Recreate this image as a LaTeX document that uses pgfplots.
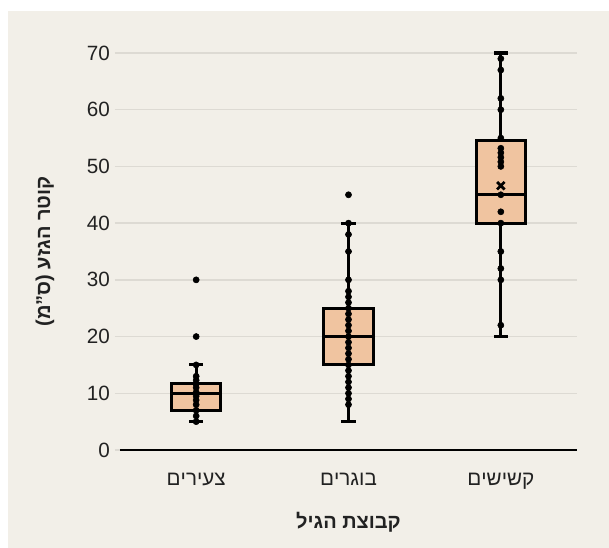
\documentclass[border=0pt]{standalone}
\usepackage{fontspec}
\setmainfont{Liberation Sans}
\TeXXeTstate=1
\usepackage{pgfplots}
\usepgfplotslibrary{statistics}
\pgfplotsset{compat=1.18}
\definecolor{bg}{RGB}{242,239,232}
\definecolor{boxc}{RGB}{240,196,160}
\definecolor{gridc}{RGB}{221,218,211}
\definecolor{txt}{RGB}{34,34,34}
\begin{document}
\begin{tikzpicture}
\useasboundingbox (0pt,0pt) rectangle (456.75pt,411pt);
\fill[white] (0pt,0pt) rectangle (456.75pt,411pt);
\fill[bg] (6pt,0pt) rectangle (456.75pt,402.75pt);
\begin{axis}[
  at={(90pt,73.5pt)}, anchor=south west,
  scale only axis, width=342.75pt, height=297.75pt,
  xmin=-0.5, xmax=2.5, ymin=0, ymax=70,
  separate axis lines,
  axis x line*=bottom, axis y line*=left,
  x axis line style={-, black, line width=1.5pt},
  y axis line style={-, draw=none},
  ytick={0,10,...,70},
  xtick={0,1,2},
  xticklabels={{\beginR צעירים\endR},{\beginR בוגרים\endR},{\beginR קשישים\endR}},
  ymajorgrids, grid style={gridc, line width=1pt},
  xtick style={draw=none},
  ytick style={draw=gridc, line width=1pt},
  major tick length=4pt, tick align=outside,
  /pgf/number format/assume math mode=true,
  tick label style={font=\fontsize{15.5}{18}\selectfont, text=txt},
  xticklabel style={yshift=-10pt},
  xlabel={\beginR קבוצת הגיל\endR},
  ylabel={\beginR קוטר הגזע (ס"מ)\endR},
  label style={font=\bfseries\fontsize{15}{18}\selectfont, text=txt},
  xlabel style={at={(axis description cs:0.5,-0.181)}, anchor=center},
  ylabel style={at={(axis description cs:-0.164,0.5)}, anchor=center},
  boxplot/draw direction=y,
  boxplot/every whisker/.style={line width=2.3pt},
  boxplot/every box/.style={line width=2.3pt},
  boxplot/every median/.style={line width=2.3pt},
  clip=false,
]
\addplot+[boxplot prepared={draw position=0, lower whisker=5, lower quartile=7, median=10, upper quartile=11.8, upper whisker=15, box extend=0.323, whisker extend=0.092}, draw=black, line width=2.3pt, fill=boxc, solid, mark=none] coordinates {};
\addplot+[boxplot prepared={draw position=1, lower whisker=5, lower quartile=15, median=20, upper quartile=25, upper whisker=40, box extend=0.323, whisker extend=0.092}, draw=black, line width=2.3pt, fill=boxc, solid, mark=none] coordinates {};
\addplot+[boxplot prepared={draw position=2, lower whisker=20, lower quartile=40, median=45, upper quartile=54.6, upper whisker=70, box extend=0.323, whisker extend=0.092}, draw=black, line width=2.3pt, fill=boxc, solid, mark=none] coordinates {};
% young points
\addplot[only marks, mark=*, mark size=2.3pt, black] coordinates {
(0,5)(0,6)(0,7)(0,8)(0,8.8)(0,9.5)(0,10.2)(0,11)(0,11.6)(0,12.3)(0,13)(0,15)(0,20)(0,30)};
% adults points
\addplot[only marks, mark=*, mark size=2.3pt, black] coordinates {
(1,8)(1,9)(1,10)(1,11)(1,12)(1,13)(1,14)(1,15)(1,16)(1,17)(1,18)(1,19)(1,20)(1,21)(1,22)(1,23)(1,24)(1,25)(1,26)(1,27)(1,28)(1,30)(1,35)(1,38)(1,40)(1,45)};
% old points
\addplot[only marks, mark=*, mark size=2.3pt, black] coordinates {
(2,22)(2,30)(2,32)(2,35)(2,40)(2,42)(2,45)(2,50)(2,50.8)(2,51.6)(2,52.4)(2,53.2)(2,55)(2,60)(2,62)(2,67)(2,69)};
% mean
\addplot[only marks, mark=x, mark size=4pt, line width=2pt, black] coordinates {(2,46.6)};
\end{axis}
\end{tikzpicture}
\end{document}
